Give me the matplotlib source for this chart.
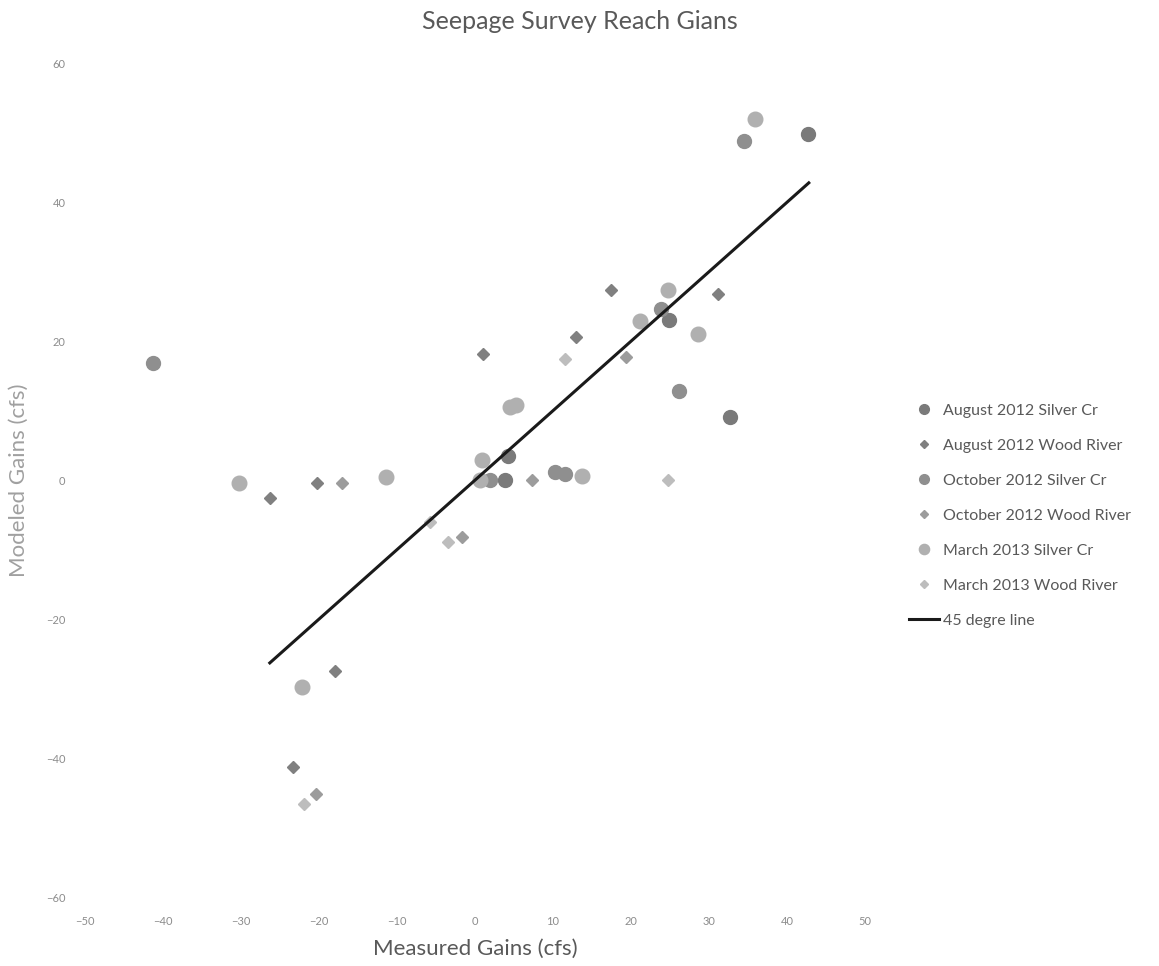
import matplotlib.pyplot as plt

plt.rcParams['font.family'] = ['Lato', 'DejaVu Sans']

# measured vs modeled reach gains (cfs)
aug12_silver_x = [42.7, 32.7, 24.9, 4.3, 3.8]
aug12_silver_y = [49.9, 9.1, 23.0, 3.5, 0.1]

aug12_wood_x = [17.5, 31.1, 12.9, 1.0, -26.3, -20.3, -23.3, -17.9]
aug12_wood_y = [27.4, 26.8, 20.6, 18.1, -2.6, -0.4, -41.3, -27.5]

oct12_silver_x = [34.5, 23.9, 26.1, -41.3, 10.3, 11.5, 1.9]
oct12_silver_y = [48.8, 24.7, 12.9, 16.8, 1.2, 0.9, 0.0]

oct12_wood_x = [19.4, 7.3, -17.0, -1.7, -20.4]
oct12_wood_y = [17.7, 0.0, -0.4, -8.2, -45.1]

mar13_silver_x = [35.9, 24.8, 21.1, 28.6, 4.5, 5.2, 0.9, 0.6, 13.7, -30.3, -11.4, -22.2]
mar13_silver_y = [52.0, 27.4, 22.9, 21.1, 10.5, 10.8, 2.9, 0.0, 0.6, -0.4, 0.5, -29.7]

mar13_wood_x = [11.5, -5.8, -3.4, 24.7, -21.9]
mar13_wood_y = [17.5, -6.0, -8.9, 0.0, -46.6]

line_x = [-26.3, 42.8]
line_y = [-26.3, 42.8]

fig = plt.figure(figsize=(11.59, 9.66), dpi=100)
ax = fig.add_axes([0.0733, 0.0714, 0.673, 0.863])

ax.plot(aug12_silver_x, aug12_silver_y, linestyle='', marker='o', markersize=10,
        color='#7a7a7a', label='August 2012 Silver Cr')
ax.plot(aug12_wood_x, aug12_wood_y, linestyle='', marker='D', markersize=6,
        color='#808080', label='August 2012 Wood River')
ax.plot(oct12_silver_x, oct12_silver_y, linestyle='', marker='o', markersize=10,
        color='#8f8f8f', label='October 2012 Silver Cr')
ax.plot(oct12_wood_x, oct12_wood_y, linestyle='', marker='D', markersize=6.5,
        color='#9c9c9c', label='October 2012 Wood River')
ax.plot(mar13_silver_x, mar13_silver_y, linestyle='', marker='o', markersize=10.5,
        color='#b0b0b0', label='March 2013 Silver Cr')
ax.plot(mar13_wood_x, mar13_wood_y, linestyle='', marker='D', markersize=6.5,
        color='#bdbdbd', label='March 2013 Wood River')
ax.plot(line_x, line_y, color='#1a1a1a', linewidth=2.2, label='45 degre line')

ax.set_xlim(-50, 50)
ax.set_ylim(-60, 60)
ax.set_xticks(range(-50, 51, 10))
ax.set_yticks(range(-60, 61, 20))
ax.tick_params(length=0, labelsize=8, labelcolor='#8c8c8c', pad=14)
for s in ax.spines.values():
    s.set_visible(False)

ax.set_xlabel('Measured Gains (cfs)', fontsize=16, color='#595959', labelpad=8)
ax.set_ylabel('Modeled Gains (cfs)', fontsize=16, color='#a0a0a0', labelpad=12)
fig.suptitle('Seepage Survey Reach Gians', fontsize=18, color='#595959', y=0.99)

leg = ax.legend(loc='upper left', bbox_to_anchor=(0.772, 0.597),
                bbox_transform=fig.transFigure, frameon=False, fontsize=11.5,
                handlelength=1.9, handletextpad=0.2, labelspacing=1.3,
                numpoints=1, markerscale=0.7)
for t in leg.get_texts():
    t.set_color('#595959')

plt.savefig('out.png')
